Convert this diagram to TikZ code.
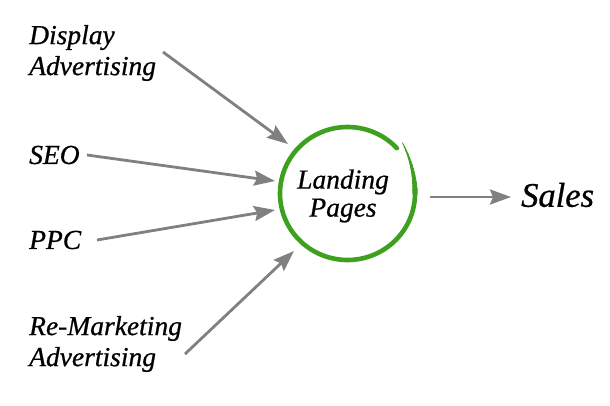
\documentclass[tikz,border=0pt]{standalone}
\usepackage{fontspec}
\setmainfont[ItalicFeatures={FakeBold=0.7}]{Liberation Serif}
\usetikzlibrary{arrows.meta}
\definecolor{arrgray}{HTML}{808080}
\definecolor{ringgreen}{HTML}{3DA01E}
\begin{document}
\begin{tikzpicture}[x=1pt,y=-1pt,
  lbl/.style={font=\fontsize{27.5}{31}\selectfont\itshape, align=left, anchor=west, inner sep=0pt},
  conn/.style={draw=arrgray, line width=2.8pt, -{Stealth[length=21pt, width=15pt, inset=3pt]}},
  ring/.style={draw=ringgreen, line cap=round}]
\useasboundingbox (0,0) rectangle (610,405);
% labels
\node[lbl] (disp) at (29,53) {Display\\Advertising};
\node[lbl] (seo) at (29,155) {SEO};
\node[lbl] (ppc) at (29,240) {PPC};
\node[lbl] (remk) at (29,344) {Re-Marketing\\Advertising};
\node[lbl, font=\fontsize{34.5}{31}\selectfont\itshape] (sales) at (521,195) {Sales};
\node[font=\fontsize{27.5}{28}\selectfont\itshape, align=center, inner sep=0pt] (land) at (343,196) {Landing\\Pages};
% ring (hand-drawn look)
\draw[ring, line width=4.6pt]
  plot[smooth, domain=43:360, samples=80] ({347.5+67.5*cos(\x)}, {193.5-66.5*sin(\x)});
\foreach \a in {0,3,...,39}{
  \pgfmathsetmacro{\w}{4.6*(1-\a/42)+0.6}
  \draw[ring, line width=\w pt]
    plot[smooth, domain=\a:\a+3.6, samples=3] ({347.5+(67.5+7*(\x/42)^2)*cos(\x)}, {193.5-(66.5+8*(\x/42)^2)*sin(\x)});
}
% arrow endpoints
\coordinate (d0) at (163,52);  \coordinate (d1) at (288,144);
\coordinate (s0) at (87,155);  \coordinate (s1) at (275,181);
\coordinate (p0) at (97,240);  \coordinate (p1) at (275,210);
\coordinate (r0) at (185,354); \coordinate (r1) at (294,251);
\coordinate (o0) at (430,197); \coordinate (o1) at (511,197);
\draw[conn] (d0) -- (d1);
\draw[conn] (s0) -- (s1);
\draw[conn] (p0) -- (p1);
\draw[conn] (r0) -- (r1);
\draw[conn] (o0) -- (o1);
\end{tikzpicture}
\end{document}
